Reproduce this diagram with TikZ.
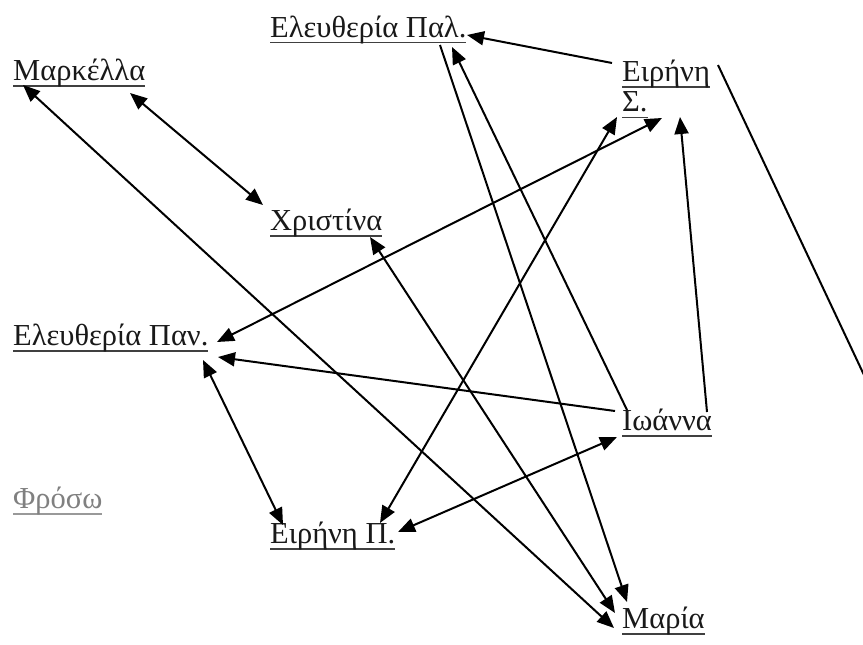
\documentclass[tikz,border=0pt]{standalone}
\usepackage{fontspec}
\setmainfont{Liberation Serif}
\usetikzlibrary{arrows.meta}
\newcommand\ulx[2][black!75]{\setbox0\hbox{#2}\rlap{\color{#1}\rule[-6.5pt]{\wd0}{1.8pt}}\box0}
\tikzset{
  nm/.style={anchor=base west, inner sep=0pt, font=\fontsize{30.5}{31}\selectfont, text=black!90},
  tipx/.tip={Triangle[length=17pt,width=14pt]},
  lk/.style={line width=2pt, -tipx},
  bi/.style={line width=2pt, tipx-tipx},
  ln/.style={line width=2pt},
}
\begin{document}
\begin{tikzpicture}[x=1pt,y=-1pt]
\useasboundingbox[fill=white] (0,0) rectangle (863,645);
\node[nm] (elpal) at (270,37) {\ulx{Ελευθερία Παλ.}};
\node[nm] (eirs) at (622,81) {\begin{tabular}[t]{@{}l@{}}\ulx{Ειρήνη}\\\ulx{Σ.}\end{tabular}};
\node[nm] (markella) at (13,80) {\ulx{Μαρκέλλα}};
\node[nm] (xristina) at (270,230) {\ulx{Χριστίνα}};
\node[nm] (elpan) at (13,345) {\ulx{Ελευθερία Παν.}};
\node[nm] (ioanna) at (622,430) {\ulx{Ιωάννα}};
\node[nm, text=black!50] (froso) at (13,508) {\ulx[black!40]{Φρόσω}};
\node[nm] (eirp) at (270,543) {\ulx{Ειρήνη Π.}};
\node[nm] (maria) at (622,628) {\ulx{Μαρία}};
\coordinate (off) at (880,409);

\draw[lk] ([shift={(-10,-18)}]eirs.base west) -- ([shift={(197,-2)}]elpal.base west);
\draw[bi] ([shift={(117,13)}]markella.base west) -- ([shift={(-7,-25)}]xristina.base west);
\draw[bi] ([shift={(10,5)}]markella.base west) -- ([shift={(-8,0)}]maria.base west);
\draw[ln] ([shift={(96,-16)}]eirs.base west) -- (off);
\draw[bi] ([shift={(204,-3)}]elpan.base west) -- ([shift={(40,37)}]eirs.base west);
\draw[lk] ([shift={(-7,-19)}]ioanna.base west) -- ([shift={(205,12)}]elpan.base west);
\draw[bi] ([shift={(190,15)}]elpan.base west) -- ([shift={(13,-18)}]eirp.base west);
\draw[bi] ([shift={(-5,7)}]ioanna.base west) -- ([shift={(128,-11)}]eirp.base west);
\draw[bi] ([shift={(-5,36)}]eirs.base west) -- ([shift={(110,-20)}]eirp.base west);
\draw[lk] ([shift={(85,-18)}]ioanna.base west) -- ([shift={(58,36)}]eirs.base west);
\draw[lk] ([shift={(5,-20)}]ioanna.base west) -- ([shift={(182,10)}]elpal.base west);
\draw[bi] ([shift={(100,7)}]xristina.base west) -- ([shift={(-7,-15)}]maria.base west);
\draw[lk] ([shift={(170,8)}]elpal.base west) -- ([shift={(5,-26)}]maria.base west);
\end{tikzpicture}
\end{document}
